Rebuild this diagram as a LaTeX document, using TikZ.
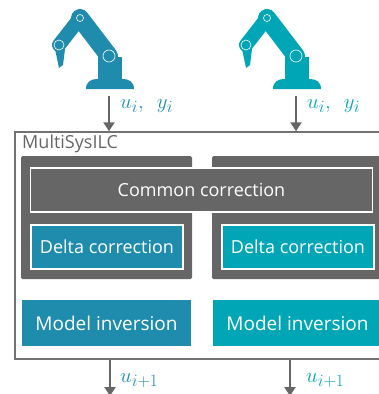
\documentclass[tikz,border=0pt]{standalone}
\usepackage{fontspec}
\setmainfont{Open Sans}
\usetikzlibrary{arrows.meta}
\DeclareMathSizes{22}{22}{17}{13}
\definecolor{armblue}{HTML}{1F8CAD}
\definecolor{armteal}{HTML}{00A6B6}
\definecolor{blockgray}{HTML}{666666}
\definecolor{framegray}{HTML}{727272}
\begin{document}
\begin{tikzpicture}[x=1pt,y=-1pt,
  flow/.style={draw=blockgray, line width=2.4pt, -{Triangle[width=11pt,length=9pt]}},
  panel/.style={fill=blockgray, rounded corners=1.5pt, inner sep=0pt},
  unitbox/.style={inner sep=0pt, text=white, font=\fontsize{18}{21}\selectfont},
  sig/.style={anchor=base west, inner sep=0pt, font=\fontsize{22}{26}\selectfont},
  pics/robot/.style={code={
    % base and column
    \fill[#1] (-24,0) .. controls (-24,-7) and (-19,-10) .. (-13,-10) -- (13,-10) .. controls (19,-10) and (24,-7) .. (24,0) -- cycle;
    \fill[#1] (-12,-9) rectangle (12,-32);
    % forearm, upper arm and gripper
    \draw[#1, line width=14pt, line cap=round] (-30,-71) -- (-51,-44);
    \draw[#1, line width=18pt, line cap=round] (-1,-33) -- (-30,-71);
    \fill[#1] (-55,-40) -- (-45,-40) -- (-47,-24) -- (-51,-21) -- cycle;
    % joints
    \draw[white, line width=0.6pt] (-1,-33) circle[radius=6];
    \draw[white, line width=0.6pt] (-30,-71) circle[radius=3.5];
    \draw[white, line width=0.6pt] (-51,-44) circle[radius=5];
  }}
]
\useasboundingbox (0,0) rectangle (379,394);
\clip (0,0) rectangle (379,394);

% robots
\pic at (110,89) {robot=armblue};
\pic at (297,89) {robot=armteal};

% system frame
\node[draw=framegray, line width=1.5pt, minimum width=374pt, minimum height=227pt, inner sep=0pt] (sys) at (202,245.5) {};
\node[anchor=north west, inner sep=0pt, text=blockgray, font=\fontsize{18}{21}\selectfont] (title) at (22,135) {MultiSysILC};

% gray panels
\node[panel, minimum width=171pt, minimum height=123pt] (gl) at (106.5,217.5) {};
\node[panel, minimum width=171pt, minimum height=123pt] (gr) at (297.5,217.5) {};

% common correction
\node[unitbox, fill=blockgray, draw=white, line width=1.2pt, minimum width=342pt, minimum height=44pt] (common) at (201.5,190) {Common correction};

% delta corrections
\node[unitbox, fill=armblue, draw=white, line width=1.2pt, minimum width=152pt, minimum height=44pt] (dl) at (107,247) {Delta correction};
\node[unitbox, fill=armteal, draw=white, line width=1.2pt, minimum width=152pt, minimum height=44pt] (dr) at (298,247) {Delta correction};

% model inversions
\node[unitbox, fill=armblue, minimum width=169pt, minimum height=46pt, font=\fontsize{19}{22}\selectfont] (ml) at (106.5,323) {Model inversion};
\node[unitbox, fill=armteal, minimum width=169pt, minimum height=46pt, font=\fontsize{19}{22}\selectfont] (mr) at (297.5,323) {Model inversion};

% inputs
\coordinate (in1) at (109,96);
\coordinate (in2) at (296,96);
\draw[flow] (in1) -- (in1 |- sys.north);
\draw[flow] (in2) -- (in2 |- sys.north);
\node[sig, text=armblue] (lin1) at (120,108) {$u_i,\hspace{0.45em}y_i$};
\node[sig, text=armteal] (lin2) at (307,108) {$u_i,\hspace{0.45em}y_i$};

% outputs
\coordinate (out1) at (110,396);
\coordinate (out2) at (290,396);
\draw[flow] (sys.south -| out1) -- (out1);
\draw[flow] (sys.south -| out2) -- (out2);
\node[sig, text=armblue] (lout1) at (120,382) {$u_{i+1}$};
\node[sig, text=armteal] (lout2) at (306,382) {$u_{i+1}$};
\end{tikzpicture}
\end{document}
